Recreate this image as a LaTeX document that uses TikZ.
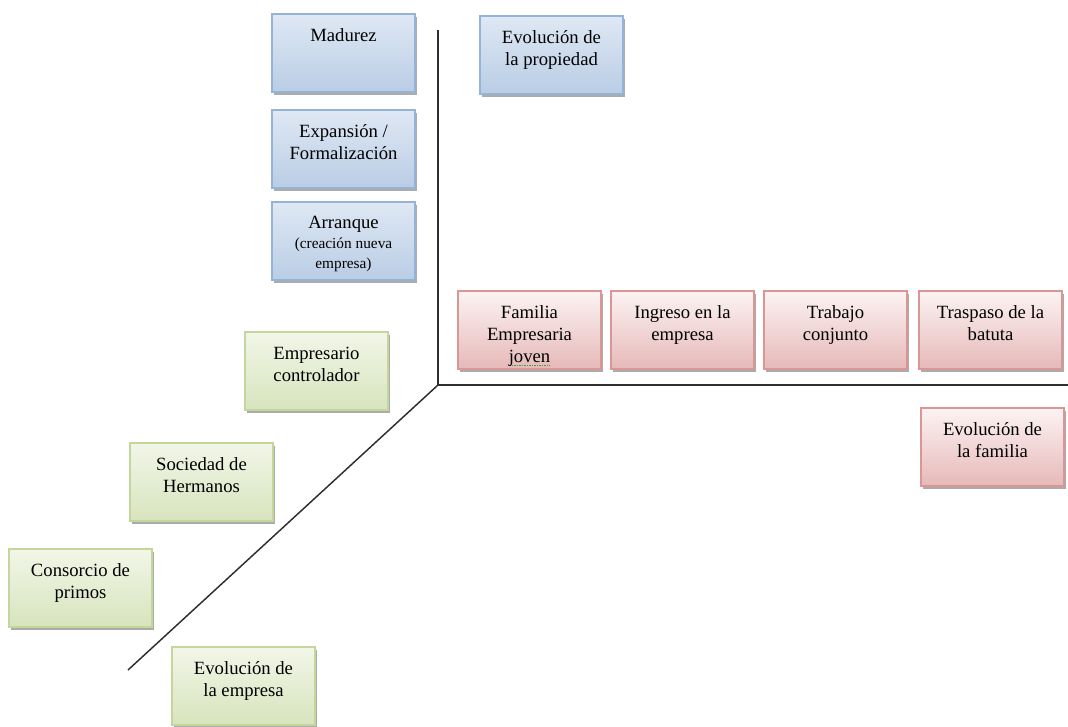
\documentclass[tikz,border=0pt]{standalone}
\usepackage{fontspec}
\setmainfont{Liberation Serif}
\usetikzlibrary{shadows}
\definecolor{bluetop}{HTML}{DFE8F4}
\definecolor{bluebot}{HTML}{B9CDE5}
\definecolor{blueedge}{HTML}{95B3D7}
\definecolor{pinktop}{HTML}{FCF3F3}
\definecolor{pinkbot}{HTML}{E6B9B8}
\definecolor{pinkedge}{HTML}{D99694}
\definecolor{greentop}{HTML}{F2F6E8}
\definecolor{greenbot}{HTML}{D7E4BD}
\definecolor{greenedge}{HTML}{C3D69B}
\definecolor{spellgreen}{HTML}{3BA33B}
\definecolor{axiscol}{HTML}{2E2E2E}

\newcommand\cardtext[1]{\parbox[c][58.5pt][t]{107.25pt}{\vspace*{11pt}\centering\fontsize{14}{16.5}\selectfont #1\par}}
\newcommand\spellwave[1]{\setbox0=\hbox{#1}\leavevmode\rlap{\textcolor{spellgreen}{\raisebox{-2.6pt}{\hbox to\wd0{\xleaders\hbox{\rule{0.7pt}{0.7pt}\hspace{0.5pt}}\hfill}}}}\box0}

\tikzset{
  card/.style={draw, line width=0.8pt, anchor=north west, inner sep=0pt, outer sep=0pt,
    minimum width=107.25pt, minimum height=58.5pt,
    drop shadow={shadow xshift=1.6pt, shadow yshift=-2.2pt, fill=black!55, opacity=0.6}},
  bluecard/.style={card, draw=blueedge, top color=bluetop, bottom color=bluebot},
  pinkcard/.style={card, draw=pinkedge, top color=pinktop, bottom color=pinkbot},
  greencard/.style={card, draw=greenedge, top color=greentop, bottom color=greenbot},
  axisline/.style={draw=axiscol, line width=1.1pt},
}

\begin{document}
\begin{tikzpicture}[x=0.75pt, y=-0.75pt]
\useasboundingbox (0,0) rectangle (1068,726);

% axes
\coordinate (O) at (438,385);
\coordinate (ytop) at (438,30);
\coordinate (xend) at (1068,385);
\coordinate (zend) at (128,670);
\draw[axisline] (ytop) -- (O) -- (xend);
\draw[axisline] (O) -- (zend);

% ownership (blue)
\node[bluecard] (mad) at (272,14) {\cardtext{Madurez}};
\node[bluecard] (exp) at (272,110) {\cardtext{Expansión /\\Formalización}};
\node[bluecard] (arr) at (272,202) {\parbox[c][58.5pt][t]{107.25pt}{\vspace*{10.5pt}\centering{\fontsize{14}{16.5}\selectfont Arranque\par}{\fontsize{11.5}{15}\selectfont (creación nueva\\empresa)\par}}};
\node[bluecard] (prop) at (480,16) {\cardtext{Evolución de\\la propiedad}};

% family (pink)
\node[pinkcard] (fam) at (458,291) {\cardtext{Familia\\Empresaria\\\spellwave{joven}}};
\node[pinkcard] (ing) at (611,291) {\cardtext{Ingreso en la\\empresa}};
\node[pinkcard] (tra) at (764,291) {\cardtext{Trabajo\\conjunto}};
\node[pinkcard] (tras) at (919,291) {\cardtext{Traspaso de la\\batuta}};
\node[pinkcard] (evfam) at (921,408) {\cardtext{Evolución de\\la familia}};

% business (green)
\node[greencard] (emp) at (245,332) {\cardtext{Empresario\\controlador}};
\node[greencard] (soc) at (130,443) {\cardtext{Sociedad de\\Hermanos}};
\node[greencard] (con) at (9,549) {\cardtext{Consorcio de\\primos}};
\node[greencard] (evemp) at (172,647) {\cardtext{Evolución de\\la empresa}};
\end{tikzpicture}
\end{document}
